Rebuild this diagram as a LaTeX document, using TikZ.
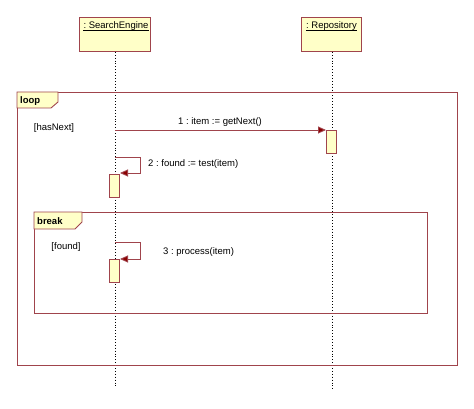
\documentclass[tikz,border=0pt]{standalone}
\usepackage{fontspec}
\setmainfont{Liberation Sans}
\usetikzlibrary{arrows.meta}
\definecolor{umlborder}{HTML}{A0444C}
\definecolor{umlfill}{HTML}{FFFFC8}
\definecolor{umlarrow}{HTML}{8B0000}
\tikzset{
  lifebox/.style={draw=umlborder, fill=umlfill, line width=0.9pt, minimum width=#1, minimum height=34pt, inner sep=0pt, anchor=north},
  lifeline/.style={dotted, line width=0.9pt, black},
  actbox/.style={draw=umlborder, fill=umlfill, line width=0.9pt},
  frameline/.style={draw=umlborder, line width=0.9pt},
  msg/.style={draw=umlborder, line width=0.9pt, -{Triangle[length=8pt,width=7pt,fill=umlarrow]}},
  lbl/.style={font=\fontsize{9.5pt}{11pt}\selectfont\frenchspacing, inner sep=0pt},
  tagtxt/.style={font=\fontsize{9.5pt}{11pt}\selectfont\bfseries, inner sep=0pt, anchor=base west}
}
\begin{document}
\begin{tikzpicture}[x=1pt,y=-1pt]
\useasboundingbox (0,0) rectangle (474,409);
% lifeline heads
\node[lifebox=71pt] (se) at (114.5,17) {};
\node[lbl, anchor=base] (sel) at (116,29) {: SearchEngine};
\draw[black, line width=0.6pt] ([yshift=-1.6pt]sel.base west) -- ([yshift=-1.6pt]sel.base east);
\node[lifebox=60pt] (rep) at (331,17) {};
\node[lbl, anchor=base] (repl) at (331.5,29) {: Repository};
\draw[black, line width=0.6pt] ([yshift=-1.6pt]repl.base west) -- ([yshift=-1.6pt]repl.base east);
\coordinate (seend) at (115,386);
\coordinate (repend) at (332,391);
\draw[lifeline] (se.south -| seend) -- (seend);
\draw[lifeline] (rep.south -| repend) -- (repend);
% loop frame
\draw[frameline] (17,92) rectangle (457,365);
\draw[frameline, fill=umlfill] (17,92) -- (58,92) -- (58,102) -- (51,108) -- (17,108) -- cycle;
\node[tagtxt] (looptag) at (20,104) {loop};
\node[lbl] (hasnext) at (54,128.5) {[hasNext]};
% break frame
\draw[frameline] (34,212) rectangle (427,313);
\draw[frameline, fill=umlfill] (34,212) -- (82,212) -- (82,222) -- (75,229) -- (34,229) -- cycle;
\node[tagtxt] (breaktag) at (37,224) {break};
\node[lbl] (found) at (66,247) {[found]};
% activations
\draw[actbox] (326,130) rectangle (336,153);
\coordinate (a1) at (326,130);
\draw[actbox] (109,174) rectangle (119,197);
\draw[actbox] (109,259) rectangle (119,282);
% message 1
\coordinate (m1s) at (115,130);
\draw[msg] (m1s) -- (a1);
\node[lbl] (m1l) at (220,122) {1 : item := getNext()};
% message 2
\coordinate (m2s) at (115,157);
\coordinate (m2e) at (120,173);
\draw[msg] (m2s) -- (140,157) -- (140,173) -- (m2e);
\node[lbl, anchor=west] (m2l) at (148,164.5) {2 : found := test(item)};
% message 3
\coordinate (m3s) at (115,242);
\coordinate (m3e) at (120,259);
\draw[msg] (m3s) -- (140,242) -- (140,259) -- (m3e);
\node[lbl, anchor=west] (m3l) at (163,252) {3 : process(item)};
\end{tikzpicture}
\end{document}
